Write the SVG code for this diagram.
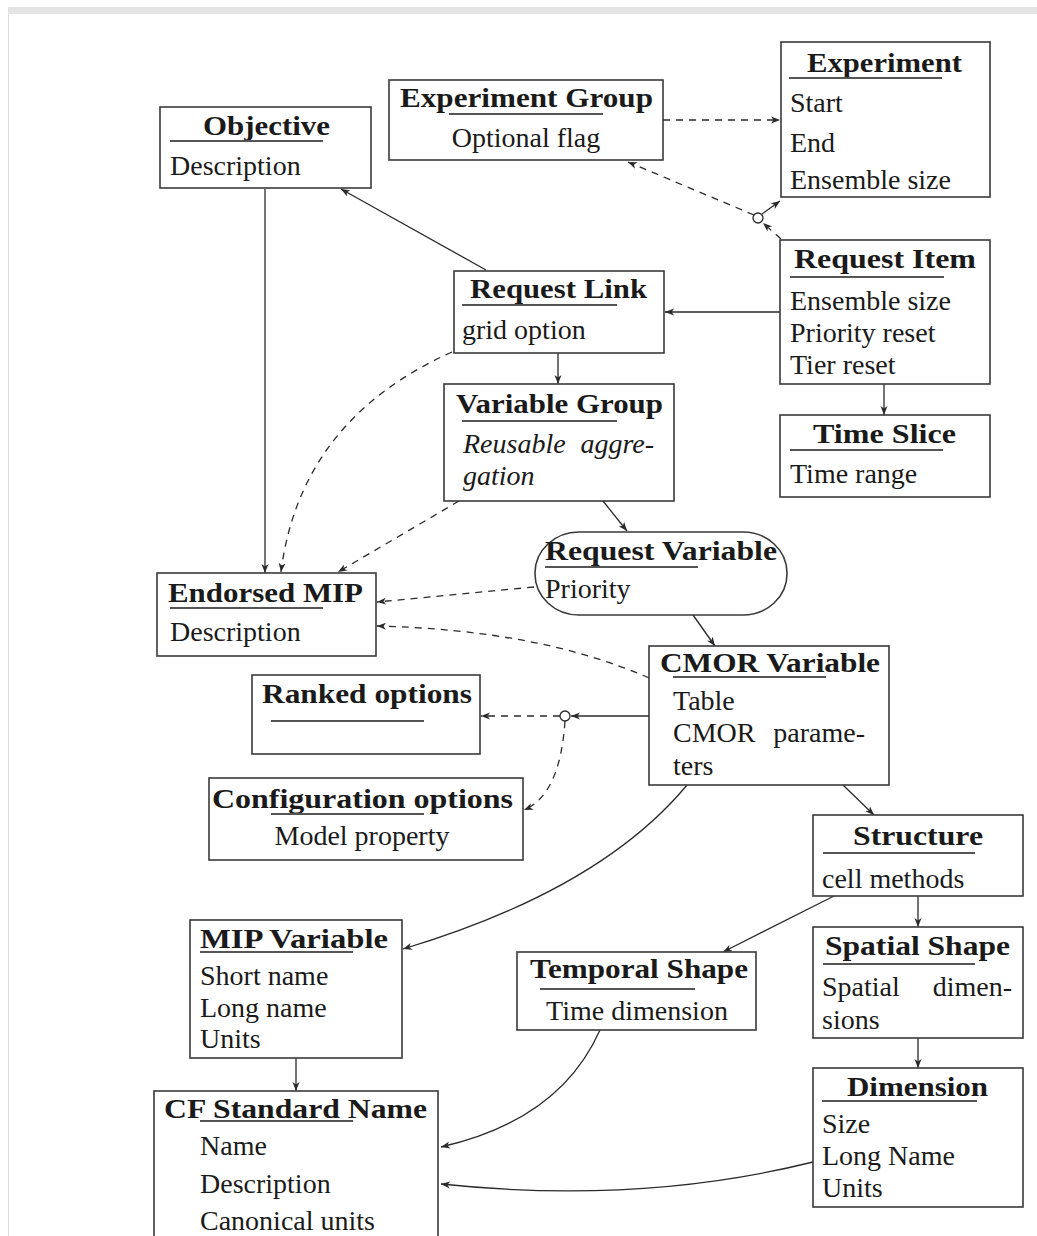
<svg xmlns="http://www.w3.org/2000/svg" width="1037" height="1236" viewBox="0 0 1037 1236">
<style>
.bx{fill:#fff;stroke:#3a3a3a;stroke-width:1.6}
.t{font-family:"Liberation Serif","Times New Roman",serif;font-size:28px;fill:#1a1a1a}
.b{font-weight:bold}
.i{font-style:italic}
.ul{stroke:#555;stroke-width:2}
.c{fill:none;stroke:#2a2a2a;stroke-width:1.3}
.d{stroke-dasharray:7,6}
.jn{fill:#fff;stroke:#2a2a2a;stroke-width:1.3}
</style>
<defs>
<marker id="ah" markerWidth="10" markerHeight="8" refX="9" refY="4" orient="auto" markerUnits="userSpaceOnUse">
<path d="M0,0.5 L9,4 L0,7.5 L2.5,4 Z" fill="#2a2a2a"/>
</marker>
</defs>
<rect x="0" y="0" width="1037" height="1236" fill="#fff"/>
<rect x="8" y="7" width="1029" height="7" fill="#e4e4e4"/>
<line x1="8.5" y1="14" x2="8.5" y2="1236" stroke="#dcdcdc" stroke-width="1"/>

<g id="connectors">
<path class="c d" d="M663,120 L780,120" marker-end="url(#ah)"/>
<path class="c d" d="M754,215 L628,162" marker-end="url(#ah)"/>
<path class="c" d="M762,214 L780,201" marker-end="url(#ah)"/>
<path class="c d" d="M781,239 L763,223" marker-end="url(#ah)"/>
<circle class="jn" cx="758" cy="218" r="5"/>
<path class="c" d="M486,270 L341,189" marker-end="url(#ah)"/>
<path class="c" d="M780,312 L665,312" marker-end="url(#ah)"/>
<path class="c" d="M884,384 L884,415" marker-end="url(#ah)"/>
<path class="c" d="M558,353 L558,384" marker-end="url(#ah)"/>
<path class="c" d="M265,189 L265,573" marker-end="url(#ah)"/>
<path class="c d" d="M452,352 Q300,420 281,572" marker-end="url(#ah)"/>
<path class="c d" d="M459,501 L338,572" marker-end="url(#ah)"/>
<path class="c" d="M603,501 L627,531" marker-end="url(#ah)"/>
<path class="c d" d="M534,587 L377,602" marker-end="url(#ah)"/>
<path class="c d" d="M649,678 Q540,630 377,626" marker-end="url(#ah)"/>
<path class="c" d="M693,615 L715,646" marker-end="url(#ah)"/>
<path class="c" d="M649,716 L571,716" marker-end="url(#ah)"/>
<path class="c d" d="M560,716 L481,716" marker-end="url(#ah)"/>
<path class="c d" d="M565,721 Q560,795 524,810" marker-end="url(#ah)"/>
<circle class="jn" cx="565" cy="716" r="5"/>
<path class="c" d="M687,785 Q600,890 403,949" marker-end="url(#ah)"/>
<path class="c" d="M843,785 L874,815" marker-end="url(#ah)"/>
<path class="c" d="M918,896 L918,927" marker-end="url(#ah)"/>
<path class="c" d="M834,896 L723,952" marker-end="url(#ah)"/>
<path class="c" d="M918,1038 L918,1068" marker-end="url(#ah)"/>
<path class="c" d="M296,1058 L296,1091" marker-end="url(#ah)"/>
<path class="c" d="M600,1030 Q560,1120 441,1147" marker-end="url(#ah)"/>
<path class="c" d="M813,1162 Q640,1205 441,1184" marker-end="url(#ah)"/>
</g>

<g id="objective">
<rect class="bx" x="160" y="107" width="211" height="81"/>
<text class="t b" x="203" y="135" textLength="127" lengthAdjust="spacingAndGlyphs">Objective</text>
<line class="ul" x1="170" y1="141" x2="323" y2="141"/>
<text class="t" x="170" y="175">Description</text>
</g>

<g id="experiment-group">
<rect class="bx" x="389" y="80" width="274" height="80"/>
<text class="t b" x="400" y="107" textLength="253" lengthAdjust="spacingAndGlyphs">Experiment Group</text>
<line class="ul" x1="449" y1="114" x2="603" y2="114"/>
<text class="t" x="526" y="147" text-anchor="middle">Optional flag</text>
</g>

<g id="experiment">
<rect class="bx" x="781" y="42" width="209" height="155"/>
<text class="t b" x="807" y="72" textLength="155" lengthAdjust="spacingAndGlyphs">Experiment</text>
<line class="ul" x1="789" y1="78" x2="942" y2="78"/>
<text class="t" x="790" y="112">Start</text>
<text class="t" x="790" y="152">End</text>
<text class="t" x="790" y="189">Ensemble size</text>
</g>

<g id="request-item">
<rect class="bx" x="780" y="240" width="210" height="144"/>
<text class="t b" x="794" y="268" textLength="182" lengthAdjust="spacingAndGlyphs">Request Item</text>
<line class="ul" x1="790" y1="277" x2="944" y2="277"/>
<text class="t" x="790" y="310">Ensemble size</text>
<text class="t" x="790" y="342">Priority reset</text>
<text class="t" x="790" y="374">Tier reset</text>
</g>

<g id="time-slice">
<rect class="bx" x="780" y="415" width="210" height="82"/>
<text class="t b" x="813" y="443" textLength="143" lengthAdjust="spacingAndGlyphs">Time Slice</text>
<line class="ul" x1="790" y1="450" x2="943" y2="450"/>
<text class="t" x="790" y="483">Time range</text>
</g>

<g id="request-link">
<rect class="bx" x="454" y="271" width="210" height="82"/>
<text class="t b" x="470" y="298" textLength="177" lengthAdjust="spacingAndGlyphs">Request Link</text>
<line class="ul" x1="462" y1="305" x2="617" y2="305"/>
<text class="t" x="462" y="339">grid option</text>
</g>

<g id="variable-group">
<rect class="bx" x="444" y="384" width="230" height="117"/>
<text class="t b" x="456" y="413" textLength="207" lengthAdjust="spacingAndGlyphs">Variable Group</text>
<line class="ul" x1="462" y1="421" x2="617" y2="421"/>
<text class="t i" x="463" y="453">Reusable</text>
<text class="t i" x="654" y="453" text-anchor="end">aggre-</text>
<text class="t i" x="463" y="485">gation</text>
</g>

<g id="request-variable">
<rect class="bx" x="535" y="532" width="252" height="83" rx="44" ry="41"/>
<text class="t b" x="545" y="560" textLength="232" lengthAdjust="spacingAndGlyphs">Request Variable</text>
<line class="ul" x1="545" y1="567" x2="698" y2="567"/>
<text class="t" x="545" y="598">Priority</text>
</g>

<g id="endorsed-mip">
<rect class="bx" x="157" y="573" width="219" height="83"/>
<text class="t b" x="168" y="602" textLength="195" lengthAdjust="spacingAndGlyphs">Endorsed MIP</text>
<line class="ul" x1="170" y1="608" x2="323" y2="608"/>
<text class="t" x="170" y="641">Description</text>
</g>

<g id="cmor-variable">
<rect class="bx" x="649" y="646" width="240" height="139"/>
<text class="t b" x="660" y="672" textLength="220" lengthAdjust="spacingAndGlyphs">CMOR Variable</text>
<line class="ul" x1="673" y1="677" x2="826" y2="677"/>
<text class="t" x="673" y="710">Table</text>
<text class="t" x="673" y="742">CMOR</text>
<text class="t" x="865" y="742" text-anchor="end">parame-</text>
<text class="t" x="673" y="775">ters</text>
</g>

<g id="ranked-options">
<rect class="bx" x="252" y="675" width="228" height="79"/>
<text class="t b" x="262" y="703" textLength="210" lengthAdjust="spacingAndGlyphs">Ranked options</text>
<line class="ul" x1="271" y1="721" x2="424" y2="721"/>
</g>

<g id="configuration-options">
<rect class="bx" x="209" y="778" width="314" height="82"/>
<text class="t b" x="212" y="808" textLength="301" lengthAdjust="spacingAndGlyphs">Configuration options</text>
<line class="ul" x1="271" y1="814" x2="424" y2="814"/>
<text class="t" x="362" y="845" text-anchor="middle">Model property</text>
</g>

<g id="structure">
<rect class="bx" x="813" y="815" width="210" height="81"/>
<text class="t b" x="853" y="845" textLength="130" lengthAdjust="spacingAndGlyphs">Structure</text>
<line class="ul" x1="823" y1="853" x2="975" y2="853"/>
<text class="t" x="822" y="888">cell methods</text>
</g>

<g id="spatial-shape">
<rect class="bx" x="813" y="927" width="210" height="111"/>
<text class="t b" x="825" y="955" textLength="185" lengthAdjust="spacingAndGlyphs">Spatial Shape</text>
<line class="ul" x1="823" y1="964" x2="975" y2="964"/>
<text class="t" x="822" y="996">Spatial</text>
<text class="t" x="1012" y="996" text-anchor="end">dimen-</text>
<text class="t" x="822" y="1029">sions</text>
</g>

<g id="temporal-shape">
<rect class="bx" x="517" y="952" width="239" height="78"/>
<text class="t b" x="530" y="978" textLength="218" lengthAdjust="spacingAndGlyphs">Temporal Shape</text>
<line class="ul" x1="540" y1="989" x2="695" y2="989"/>
<text class="t" x="637" y="1020" text-anchor="middle">Time dimension</text>
</g>

<g id="mip-variable">
<rect class="bx" x="190" y="920" width="212" height="138"/>
<text class="t b" x="200" y="948" textLength="188" lengthAdjust="spacingAndGlyphs">MIP Variable</text>
<line class="ul" x1="200" y1="952" x2="353" y2="952"/>
<text class="t" x="200" y="985">Short name</text>
<text class="t" x="200" y="1017">Long name</text>
<text class="t" x="200" y="1048">Units</text>
</g>

<g id="cf-standard-name">
<rect class="bx" x="154" y="1091" width="284" height="170"/>
<text class="t b" x="164" y="1118" textLength="263" lengthAdjust="spacingAndGlyphs">CF Standard Name</text>
<line class="ul" x1="200" y1="1121" x2="353" y2="1121"/>
<text class="t" x="200" y="1155">Name</text>
<text class="t" x="200" y="1193">Description</text>
<text class="t" x="200" y="1230">Canonical units</text>
</g>

<g id="dimension">
<rect class="bx" x="813" y="1068" width="210" height="139"/>
<text class="t b" x="847" y="1096" textLength="141" lengthAdjust="spacingAndGlyphs">Dimension</text>
<line class="ul" x1="822" y1="1101" x2="977" y2="1101"/>
<text class="t" x="822" y="1133">Size</text>
<text class="t" x="822" y="1165">Long Name</text>
<text class="t" x="822" y="1197">Units</text>
</g>
</svg>
